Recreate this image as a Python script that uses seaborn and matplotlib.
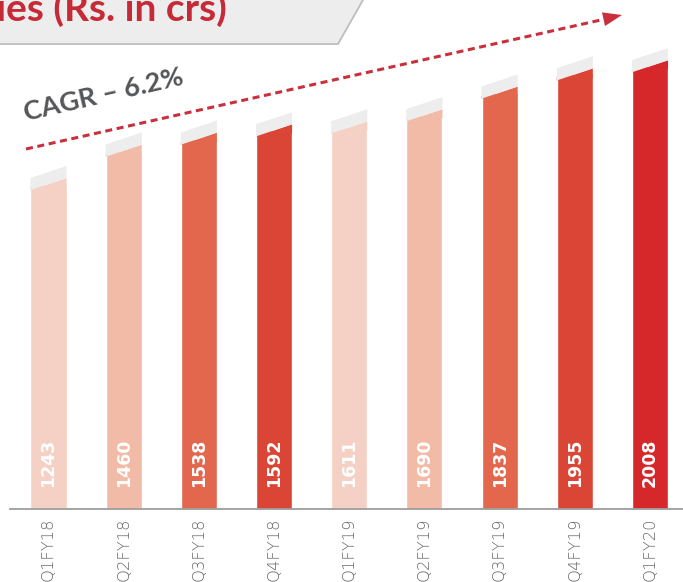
import pandas as pd
import seaborn as sns
import matplotlib.pyplot as plt
from matplotlib.patches import Polygon
from matplotlib.lines import Line2D

quarters = ['Q1FY18', 'Q2FY18', 'Q3FY18', 'Q4FY18', 'Q1FY19',
            'Q2FY19', 'Q3FY19', 'Q4FY19', 'Q1FY20']
revenue = [1243, 1460, 1538, 1592, 1611, 1690, 1837, 1955, 2008]
bar_colors = ['#f5d0c4', '#f2bba7', '#e2674d', '#db4535', '#f5d0c4',
              '#f2bba7', '#e2674d', '#db4535', '#d6282b']
title = 'Revenues (Rs. in crs)'
cagr_label = 'CAGR \u2013 6.2%'

# the infographic does not start its bars at zero, baseline sits here
y_floor = -865
y_top = 2438
slant = 78      # rise of the slanted bar tops (data units)
cap = 80        # thickness of the grey cap

W, H = 683, 582


def fx(x):
    return x / W


def fy(y):
    return 1 - y / H


sns.set_theme(style='white')
plt.rcParams['font.family'] = ['Lato', 'DejaVu Sans']

fig = plt.figure(figsize=(W / 100, H / 100), dpi=100)
ax = fig.add_axes([10 / W, 73 / H, 673 / W, 509 / H])

df = pd.DataFrame({'quarter': quarters, 'revenue': revenue})
df['height'] = df['revenue'] - y_floor

sns.barplot(data=df, x='quarter', y='height', hue='quarter',
            palette=bar_colors, legend=False, width=0.48, saturation=1,
            bottom=y_floor, ax=ax, zorder=2)

ax.set_xlim(-0.512, 8.439)
ax.set_ylim(y_floor, y_top)

# slanted tops with a grey cap
bars = sorted(ax.patches, key=lambda p: p.get_x())
for p in bars:
    x0 = p.get_x()
    x1 = x0 + p.get_width()
    top = p.get_y() + p.get_height()
    ax.add_patch(Polygon([(x0, top - 20), (x1, top - 20), (x1, top + slant / 2),
                          (x0, top - slant / 2)],
                         closed=True, facecolor=p.get_facecolor(),
                         edgecolor='none', zorder=3))
    ax.add_patch(Polygon([(x0, top - slant / 2), (x1, top + slant / 2),
                          (x1, top + slant / 2 + cap), (x0, top - slant / 2 + cap)],
                         closed=True, facecolor='#ededed', edgecolor='none', zorder=3))
    # white over the square top left by the bar rectangle
    ax.add_patch(Polygon([(x0, top - slant / 2 + cap), (x1, top + slant / 2 + cap),
                          (x1, top + slant / 2 + cap + 60), (x0, top + slant / 2 + cap + 60)],
                         closed=True, facecolor='white', edgecolor='none', zorder=3))

# values written inside the bars
for i, v in enumerate(revenue):
    ax.annotate(str(v), xy=(i, y_floor), xytext=(0, 15.5), textcoords='offset points',
                rotation=90, ha='center', va='bottom', color='white',
                fontsize=12.5, fontweight='bold', family=['DejaVu Sans'], zorder=4)

ax.set_xlabel('')
ax.set_ylabel('')
ax.set_yticks([])
for s in ['left', 'top', 'right']:
    ax.spines[s].set_visible(False)
ax.spines['bottom'].set_color('#9d9d9d')
ax.spines['bottom'].set_linewidth(1.3)
ax.tick_params(axis='x', length=0, pad=6, labelrotation=90,
               labelsize=11.8, labelcolor='#6a6b6d')
for lab in ax.get_xticklabels():
    lab.set_fontfamily(['DejaVu Sans'])
    lab.set_fontweight('light')

# title banner, cut off at the top left like the slide
fig.add_artist(Polygon([(fx(0), fy(0)), (fx(363), fy(0)), (fx(338), fy(43)), (fx(0), fy(43))],
                       closed=True, facecolor='#ededee', edgecolor='none',
                       transform=fig.transFigure))
fig.add_artist(Line2D([fx(0), fx(338), fx(363)], [fy(44), fy(44), fy(0)],
                      color='#bdbdbd', lw=1.3, transform=fig.transFigure))
fig.text(fx(227), fy(21), title, ha='right', va='baseline', color='#c62a36',
         fontsize=28, fontweight='bold',
         family=['Liberation Sans Narrow', 'Lato', 'DejaVu Sans'])

# CAGR trend arrow
fig.add_artist(Line2D([fx(26), fx(603)], [fy(149), fy(19.5)], color='#c9303c',
                      lw=2.2, linestyle=(0, (2.3, 1.5)), solid_capstyle='butt',
                      dash_capstyle='butt', transform=fig.transFigure))
fig.add_artist(Polygon([(fx(622), fy(15)), (fx(605), fy(26)), (fx(602), fy(12.4))],
                       closed=True, facecolor='#c9303c', edgecolor='none',
                       transform=fig.transFigure))
fig.text(fx(26), fy(121), cagr_label, ha='left', va='baseline', rotation=13,
         rotation_mode='anchor', color='#555658', fontsize=19.5, fontweight='bold')

fig.savefig('out.png', dpi=100)
